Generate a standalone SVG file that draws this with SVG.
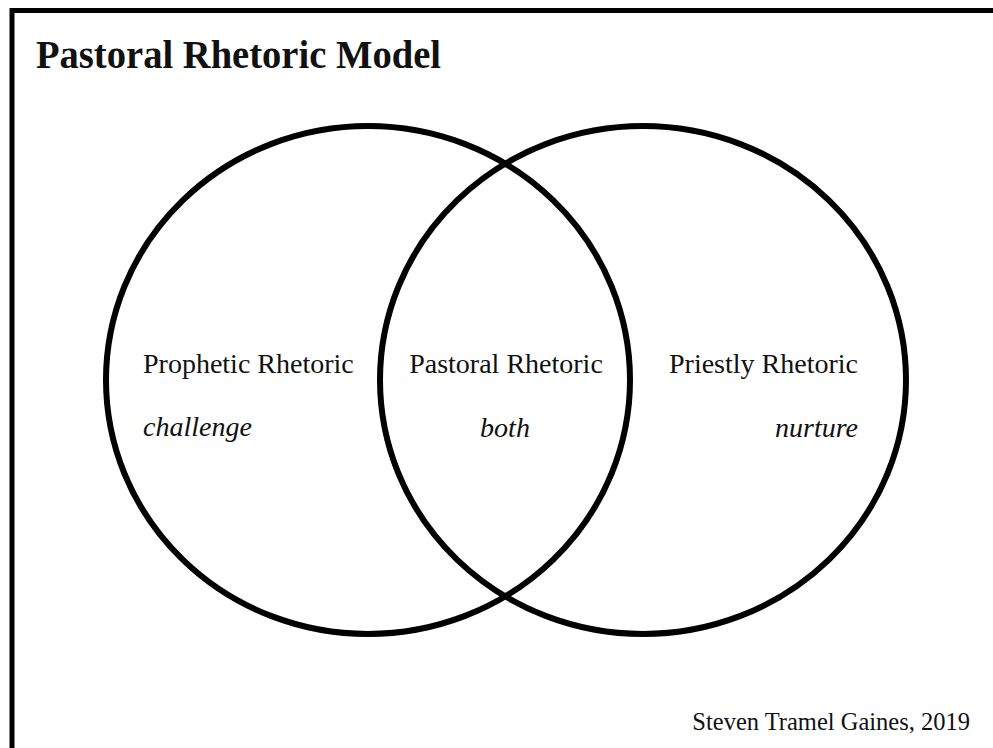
<svg xmlns="http://www.w3.org/2000/svg" width="993" height="748" viewBox="0 0 993 748">
  <style>
    .frame { fill: none; stroke: #000; stroke-width: 5; }
    .venn { fill: none; stroke: #000; stroke-width: 6; }
    .t { font-family: "Liberation Serif", "Times New Roman", serif; fill: #111; }
    .title { font-size: 39px; font-weight: bold; }
    .lbl { font-size: 28px; }
    .sub { font-size: 28px; font-style: italic; }
    .credit { font-size: 24.5px; }
  </style>
  <rect width="993" height="748" fill="#fff"/>
  <path class="frame" d="M12,748 V10.5 H993"/>
  <text class="t title" x="36" y="68" textLength="405" lengthAdjust="spacingAndGlyphs">Pastoral Rhetoric Model</text>
  <g id="connectors"></g>
  <g id="prophetic">
    <ellipse class="venn" cx="368" cy="380" rx="262" ry="254"/>
    <text class="t lbl" x="143" y="373">Prophetic Rhetoric</text>
    <text class="t sub" x="143" y="436">challenge</text>
  </g>
  <g id="priestly">
    <ellipse class="venn" cx="643" cy="380" rx="263" ry="254"/>
    <text class="t lbl" x="858" y="373" text-anchor="end">Priestly Rhetoric</text>
    <text class="t sub" x="858" y="437" text-anchor="end">nurture</text>
  </g>
  <g id="pastoral">
    <text class="t lbl" x="506" y="373" text-anchor="middle">Pastoral Rhetoric</text>
    <text class="t sub" x="505" y="437" text-anchor="middle">both</text>
  </g>
  <text class="t credit" x="970" y="730" text-anchor="end">Steven Tramel Gaines, 2019</text>
</svg>
